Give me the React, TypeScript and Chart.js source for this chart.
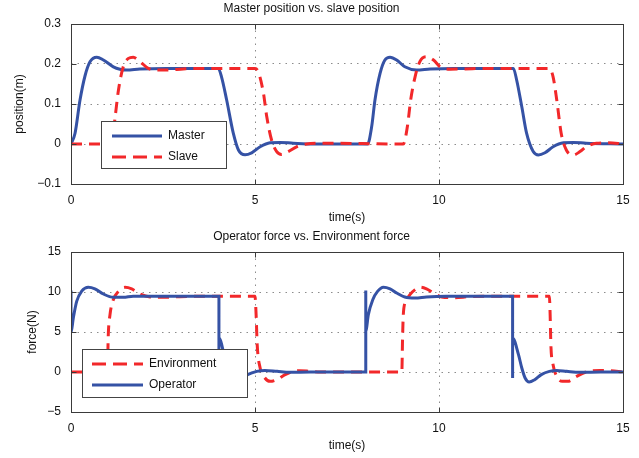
import React, { useEffect, useRef } from "react";
import { Chart, registerables } from "chart.js";

Chart.register(...registerables);

const FONT = '"Liberation Sans", Arial, Helvetica, sans-serif';
const BLUE = "#3552a5";
const RED = "#f2282a";

// ---------- Top plot: position (m) ----------
const topTitle = "Master position vs. slave position";
const topYLabel = "position(m)";
const xLabel = "time(s)";
const xTickValues = [0, 5, 10, 15];
const posTickValues = [-0.1, 0, 0.1, 0.2, 0.3];
const forceTickValues = [-5, 0, 5, 10, 15];

const masterName = "Master";
const masterT = [0, 0.11, 0.245, 0.38, 0.52, 0.7, 0.88, 1.15, 1.33, 1.51, 1.87, 2.6, 4.0, 4.09, 4.23, 4.41, 4.55, 4.73, 4.91, 5.14, 5.41, 5.68, 6.04, 6.6, 8.06, 8.17, 8.26, 8.4, 8.53, 8.67, 8.85, 9.07, 9.39, 9.76, 10.39, 12.02, 12.11, 12.25, 12.38, 12.56, 12.7, 12.88, 13.1, 13.38, 13.65, 14.0, 15];
const masterY = [0, 0.027, 0.11, 0.17, 0.206, 0.217, 0.21, 0.193, 0.187, 0.185, 0.1875, 0.189, 0.189, 0.168, 0.11, 0.027, -0.015, -0.027, -0.022, -0.007, 0.003, 0.004, 0.002, 0, 0, 0.043, 0.11, 0.177, 0.21, 0.217, 0.21, 0.193, 0.185, 0.1875, 0.189, 0.189, 0.16, 0.093, 0.027, -0.019, -0.0275, -0.022, -0.007, 0.003, 0.004, 0.002, 0];

const slaveName = "Slave";
const slaveT = [0, 1.1, 1.2, 1.29, 1.42, 1.56, 1.69, 1.875, 2.1, 2.33, 2.6, 3.05, 3.5, 5.0, 5.09, 5.23, 5.32, 5.45, 5.59, 5.72, 5.9, 6.13, 6.4, 6.8, 9.03, 9.14, 9.23, 9.35, 9.48, 9.66, 9.85, 10.03, 10.3, 10.66, 11.29, 13.0, 13.1, 13.2, 13.32, 13.46, 13.65, 13.83, 14.0, 14.28, 14.6, 15];
const slaveY = [0, 0, 0.068, 0.135, 0.193, 0.214, 0.217, 0.206, 0.189, 0.185, 0.185, 0.1875, 0.189, 0.189, 0.18, 0.127, 0.068, 0.01, -0.019, -0.026, -0.019, -0.007, 0, 0.002, 0, 0.043, 0.11, 0.168, 0.206, 0.218, 0.21, 0.193, 0.187, 0.1875, 0.189, 0.189, 0.168, 0.11, 0.027, -0.015, -0.0275, -0.019, -0.007, 0.002, 0.003, 0];

// ---------- Bottom plot: force (N) ----------
const bottomTitle = "Operator force vs. Environment force";
const bottomYLabel = "force(N)";

const envName = "Environment";
const envT = [0, 0.99, 1.01, 1.06, 1.15, 1.29, 1.47, 1.65, 1.875, 2.15, 2.5, 2.96, 3.5, 5.0, 5.03, 5.06, 5.14, 5.27, 5.41, 5.59, 5.82, 6.04, 6.22, 6.5, 6.77, 8.99, 9.01, 9.03, 9.1, 9.21, 9.35, 9.48, 9.66, 9.85, 10.07, 10.39, 10.84, 11.3, 13.0, 13.02, 13.04, 13.1, 13.2, 13.35, 13.5, 13.74, 14.0, 14.37, 14.64, 15];
const envY = [0, 0, 4.25, 7.17, 9.04, 10.08, 10.58, 10.38, 9.75, 9.38, 9.33, 9.42, 9.46, 9.46, 7.17, 3.4, 0.5, -0.75, -1.17, -0.96, -0.33, 0.08, 0.17, 0.08, 0, 0, 4.25, 7.17, 8.83, 9.67, 10.3, 10.6, 10.38, 9.88, 9.38, 9.29, 9.42, 9.46, 9.46, 7.17, 3.4, 0.92, -0.54, -1.17, -1.17, -0.54, 0, 0.2, 0.17, 0];

const opName = "Operator";
const opT = [0, 0, 0.063, 0.154, 0.29, 0.47, 0.65, 0.88, 1.15, 1.42, 1.69, 2.15, 4.02, 4.02, 4.02, 4.16, 4.25, 4.34, 4.45, 4.6, 4.8, 5.05, 5.27, 5.6, 5.95, 6.5, 8.01, 8.01, 8.01, 8.08, 8.2, 8.33, 8.49, 8.67, 8.85, 9.07, 9.35, 9.66, 10.2, 12.0, 12.0, 12.0, 12.16, 12.25, 12.34, 12.45, 12.6, 12.78, 13.0, 13.2, 13.47, 13.83, 14.4, 15];
const opY = [10.2, 4.9, 6.75, 8.83, 10.1, 10.6, 10.4, 9.75, 9.33, 9.33, 9.46, 9.46, 9.46, -0.75, 4.25, 2.17, 0.5, -0.75, -1.25, -0.96, -0.33, 0.08, 0.2, 0.08, -0.04, 0, 0, 10.2, 5.1, 7.17, 9.04, 10.08, 10.6, 10.4, 9.88, 9.38, 9.25, 9.38, 9.46, 9.46, -0.75, 4.25, 2.17, 0.5, -0.75, -1.25, -0.96, -0.33, 0.08, 0.2, 0.08, -0.04, 0, 0];

const DASH = [11, 7];

function pts(t: number[], v: number[]) {
  return t.map((x, i) => ({ x, y: v[i] }));
}

function fmtTick(v: number) {
  const r = Math.round(v * 100) / 100;
  if (r === 0) return "0";
  return r < 0 ? "\u2212" + String(Math.abs(r)) : String(r);
}

const framePlugin = {
  id: "frame",
  afterDraw(chart: any, _args: any, opts: any) {
    const { ctx, chartArea: a, scales } = chart;
    ctx.save();
    const L = Math.round(a.left) + 0.5;
    const R = Math.round(a.right) + 0.5;
    const T = Math.round(a.top) + 0.5;
    const B = Math.round(a.bottom) + 0.5;
    ctx.strokeStyle = "#3a3a3a";
    ctx.lineWidth = 1;
    ctx.setLineDash([]);
    const seg = (x1: number, y1: number, x2: number, y2: number) => {
      ctx.beginPath();
      ctx.moveTo(x1, y1);
      ctx.lineTo(x2, y2);
      ctx.stroke();
    };
    const tl = 5;
    (opts.xTicks || []).forEach((v: number) => {
      const px = Math.round(scales.x.getPixelForValue(v)) + 0.5;
      seg(px, B, px, B - tl);
      seg(px, T, px, T + tl);
    });
    (opts.yTicks || []).forEach((v: number) => {
      const py = Math.round(scales.y.getPixelForValue(v)) + 0.5;
      seg(L, py, L + tl, py);
      seg(R, py, R - tl, py);
    });
    ctx.strokeRect(L, T, R - L, B - T);

    const lg = opts.legend;
    if (lg) {
      ctx.fillStyle = "#ffffff";
      ctx.fillRect(lg.x, lg.y, lg.w, lg.h);
      ctx.strokeStyle = "#444444";
      ctx.lineWidth = 1;
      ctx.strokeRect(lg.x + 0.5, lg.y + 0.5, lg.w, lg.h);
      lg.items.forEach((it: any, i: number) => {
        const y = lg.y + lg.rows[i];
        ctx.strokeStyle = it.color;
        ctx.lineWidth = 3;
        ctx.setLineDash(it.dash || []);
        ctx.beginPath();
        ctx.moveTo(lg.x + lg.lineX0, y);
        ctx.lineTo(lg.x + lg.lineX1, y);
        ctx.stroke();
        ctx.setLineDash([]);
        ctx.fillStyle = "#111111";
        ctx.font = `12px ${FONT}`;
        ctx.textBaseline = "middle";
        ctx.textAlign = "left";
        ctx.fillText(it.label, lg.x + lg.textX, y);
      });
    }
    ctx.restore();
  },
};

function makeConfig(p: any) {
  const edgeTransparent = (min: number, max: number) => (c: any) => {
    const v = c.tick ? c.tick.value : null;
    if (v === null || Math.abs(v - min) < 1e-9 || Math.abs(v - max) < 1e-9) return "rgba(0,0,0,0)";
    return "#8c8c8c";
  };
  return {
    type: "line",
    data: { datasets: p.datasets },
    options: {
      animation: false,
      responsive: false,
      devicePixelRatio: 1,
      events: [],
      layout: { padding: { left: 0, right: 16, top: 0, bottom: 0 } },
      elements: { point: { radius: 0 }, line: { cubicInterpolationMode: "monotone", borderCapStyle: "butt" } },
      plugins: {
        legend: { display: false },
        tooltip: { enabled: false },
        title: {
          display: true,
          text: p.title,
          color: "#111",
          font: { family: FONT, size: 12, weight: "normal" },
          padding: { top: 1.5, bottom: 8.1 },
        },
        frame: { xTicks: xTickValues, yTicks: p.yTicks, legend: p.legend },
      },
      scales: {
        x: {
          type: "linear",
          min: 0,
          max: 15,
          afterBuildTicks: (s: any) => {
            s.ticks = xTickValues.map((v) => ({ value: v }));
          },
          ticks: { color: "#111", padding: 9, maxRotation: 0, font: { family: FONT, size: 12 }, callback: (v: number) => fmtTick(v) },
          grid: { color: edgeTransparent(0, 15), lineWidth: 1, drawTicks: false },
          border: { display: false, dash: [1.5, 5] },
          title: { display: true, text: xLabel, color: "#111", font: { family: FONT, size: 12 }, padding: { top: 0, bottom: 4.4 } },
          afterFit: (s: any) => {
            s.height = 45;
          },
        },
        y: {
          type: "linear",
          min: p.yMin,
          max: p.yMax,
          afterBuildTicks: (s: any) => {
            s.ticks = p.yTicks.map((v: number) => ({ value: v }));
          },
          ticks: { color: "#111", padding: 10, font: { family: FONT, size: 12 }, callback: (v: number) => fmtTick(v) },
          grid: { color: edgeTransparent(p.yMin, p.yMax), lineWidth: 1, drawTicks: false },
          border: { display: false, dash: [1.5, 5] },
          title: { display: true, text: p.yLabel, color: "#111", font: { family: FONT, size: 12 }, padding: { top: p.yTitlePad, bottom: 0 } },
          afterFit: (s: any) => {
            s.width = 71;
          },
        },
      },
    },
    plugins: [framePlugin],
  };
}

function Plot({ config }: { config: () => any }) {
  const ref = useRef<HTMLCanvasElement | null>(null);
  useEffect(() => {
    if (!ref.current) return;
    const chart = new Chart(ref.current, config());
    return () => chart.destroy();
  }, []);
  return <canvas ref={ref} width={639} height={229} style={{ display: "block", width: 639, height: 229 }} />;
}

const topConfig = () =>
  makeConfig({
    title: topTitle,
    yLabel: topYLabel,
    yMin: -0.1,
    yMax: 0.3,
    yTicks: posTickValues,
    yTitlePad: 12,
    datasets: [
      { label: masterName, data: pts(masterT, masterY), borderColor: BLUE, borderWidth: 3, order: 1, pointRadius: 0 },
      { label: slaveName, data: pts(slaveT, slaveY), borderColor: RED, borderWidth: 3, borderDash: DASH, order: 0, pointRadius: 0 },
    ],
    legend: {
      x: 101, y: 121, w: 125, h: 47,
      lineX0: 11, lineX1: 61, textX: 67,
      rows: [15, 36],
      items: [
        { label: masterName, color: BLUE },
        { label: slaveName, color: RED, dash: [14, 7] },
      ],
    },
  });

const bottomConfig = () =>
  makeConfig({
    title: bottomTitle,
    yLabel: bottomYLabel,
    yMin: -5,
    yMax: 15,
    yTicks: forceTickValues,
    yTitlePad: 25,
    datasets: [
      { label: envName, data: pts(envT, envY), borderColor: RED, borderWidth: 3, borderDash: DASH, order: 1, pointRadius: 0 },
      { label: opName, data: pts(opT, opY), borderColor: BLUE, borderWidth: 3, order: 0, pointRadius: 0 },
    ],
    legend: {
      x: 82, y: 121, w: 165, h: 48,
      lineX0: 10, lineX1: 61, textX: 67,
      rows: [15, 36],
      items: [
        { label: envName, color: RED, dash: [14, 7] },
        { label: opName, color: BLUE },
      ],
    },
  });

export default function App() {
  return (
    <div style={{ position: "absolute", left: 0, top: 0, width: 639, height: 458, background: "#ffffff" }}>
      <div style={{ position: "absolute", left: 0, top: 0 }}>
        <Plot config={topConfig} />
      </div>
      <div style={{ position: "absolute", left: 0, top: 228 }}>
        <Plot config={bottomConfig} />
      </div>
    </div>
  );
}
